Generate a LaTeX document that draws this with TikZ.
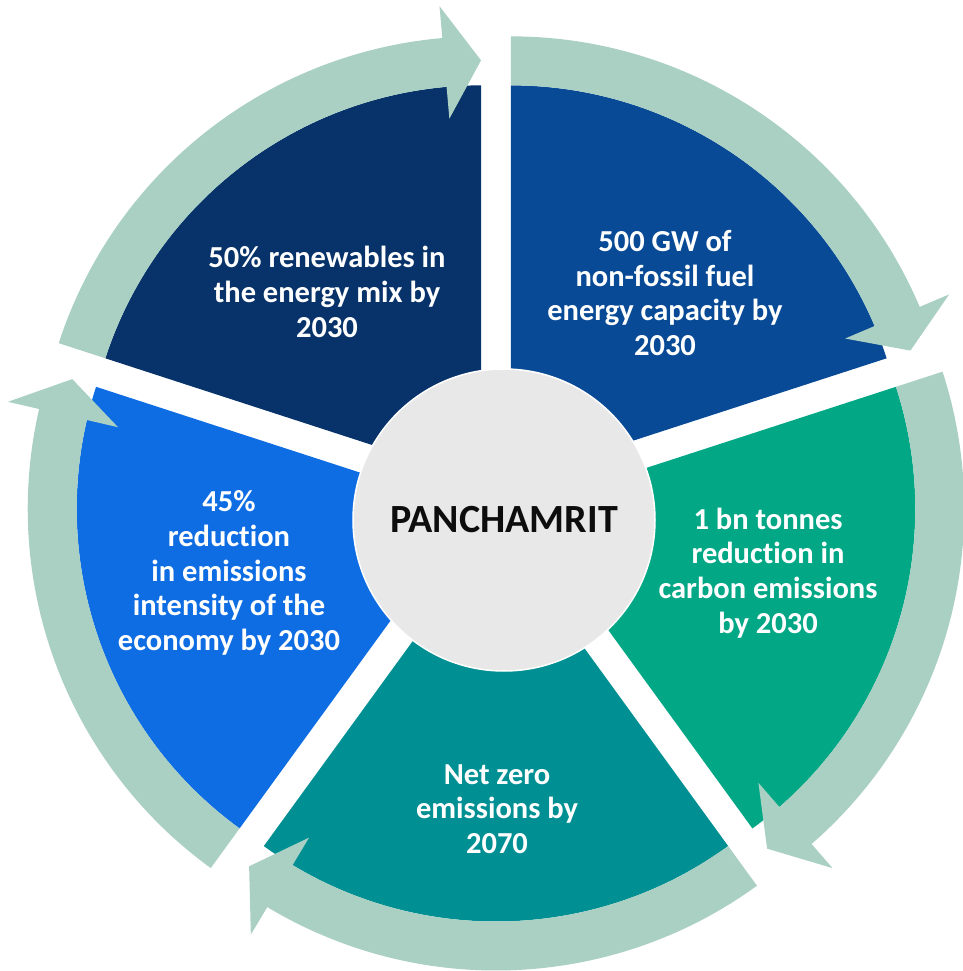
\documentclass[tikz,border=0pt]{standalone}
\usepackage{fontspec}
\setmainfont{Carlito}[Ligatures=NoCommon]
\usepackage{tikz}

\definecolor{segnavy}{HTML}{07336A}
\definecolor{segroyal}{HTML}{084A96}
\definecolor{seggreen}{HTML}{02A886}
\definecolor{segteal}{HTML}{009093}
\definecolor{segblue}{HTML}{0F6DE3}
\definecolor{ringgreen}{HTML}{AAD0C3}
\definecolor{hubgrey}{HTML}{E8E8E8}

\begin{document}
\begin{tikzpicture}[x=1pt, y=1pt,
  goal/.style={text=white, align=center, font=\fontsize{30.5}{34.7}\selectfont\bfseries},
  ring/.style={fill=ringgreen}]

\useasboundingbox (-496,-470) rectangle (466,501);

\begin{scope}[shift={(126:25.5)}]
\fill[segnavy] (0,0) -- (90:395) arc[start angle=90, end angle=162, radius=395] -- cycle;
\fill[ring] (162:395) -- (162:444) arc[start angle=162, end angle=95, radius=444] -- (95:476) -- (90:420) -- (95:363) -- (95:395) arc[start angle=95, end angle=162, radius=395] -- cycle;
\end{scope}

\begin{scope}[shift={(54:25.5)}]
\fill[segroyal] (0,0) -- (18:395) arc[start angle=18, end angle=90, radius=395] -- cycle;
\fill[ring] (90:395) -- (90:444) arc[start angle=90, end angle=23, radius=444] -- (23:476) -- (18:420) -- (23:363) -- (23:395) arc[start angle=23, end angle=90, radius=395] -- cycle;
\end{scope}

\begin{scope}[shift={(-18:25.5)}]
\fill[seggreen] (0,0) -- (-54:395) arc[start angle=-54, end angle=18, radius=395] -- cycle;
\fill[ring] (18:395) -- (18:444) arc[start angle=18, end angle=-49, radius=444] -- (-49:476) -- (-54:420) -- (-49:363) -- (-49:395) arc[start angle=-49, end angle=18, radius=395] -- cycle;
\end{scope}

\begin{scope}[shift={(-90:25.5)}]
\fill[segteal] (0,0) -- (-126:395) arc[start angle=-126, end angle=-54, radius=395] -- cycle;
\fill[ring] (-54:395) -- (-54:444) arc[start angle=-54, end angle=-121, radius=444] -- (-121:476) -- (-126:420) -- (-121:363) -- (-121:395) arc[start angle=-121, end angle=-54, radius=395] -- cycle;
\end{scope}

\begin{scope}[shift={(198:25.5)}]
\fill[segblue] (0,0) -- (162:395) arc[start angle=162, end angle=234, radius=395] -- cycle;
\fill[ring] (234:395) -- (234:444) arc[start angle=234, end angle=167, radius=444] -- (167:476) -- (162:420) -- (167:363) -- (167:395) arc[start angle=167, end angle=234, radius=395] -- cycle;
\end{scope}

\node[goal] (renewables) at (-169,209) {50\% renewables in\\the energy mix by\\2030};
\node[goal] (capacity) at (169,208) {500 GW of\\non-fossil fuel\\energy capacity by\\2030};
\node[goal] (carbon) at (272,-72) {1 bn tonnes\\reduction in\\carbon emissions\\by 2030};
\node[goal] (netzero) at (1,-308) {Net zero\\emissions by\\2070};
\node[goal] (intensity) at (-267,-72) {45\%\\reduction\\in emissions\\intensity of the\\economy by 2030};

\node[circle, fill=hubgrey, draw=white, line width=1.5pt, minimum size=302pt, inner sep=0pt,
  font=\fontsize{40}{44}\selectfont\bfseries, text=black!95] (panchamrit) at (8,-19) {PANCHAMRIT};

\end{tikzpicture}
\end{document}
